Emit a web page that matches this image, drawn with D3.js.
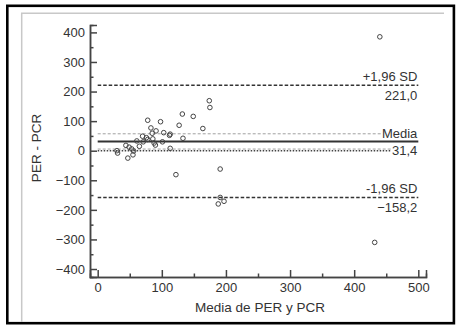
<!DOCTYPE html>
<html>
<head>
<meta charset="utf-8">
<script src="https://cdn.jsdelivr.net/npm/d3@7"></script>
<style>
  body { margin: 0; background: #fff; }
  text { font-family: "Liberation Sans", Arial, sans-serif; fill: #333; }
</style>
</head>
<body>
<svg id="chart" width="461" height="329"></svg>
<script>
// Bland-Altman data: mean of both methods vs difference
var meanVals = [30, 31, 44, 47, 49, 53, 55, 56, 61, 65, 70, 71, 76, 78, 78, 83, 85, 86, 88, 90,
  91, 98, 101, 103, 112, 113, 113, 122, 127, 132, 133, 149, 164, 174, 175, 191, 191, 188, 197, 432, 440];
var diffVals = [0, -8, 18, -25, 12, 6, -14, -1, 33, 15, 49, 30, 44, 103, 38, 77, 59, 40, 26, 19,
  67, 98, 30, 61, 52, 56, 8, -81, 86, 124, 42, 116, 75, 169, 146, -62, -158, -180, -171, -310, 385];

var meanDiff = 31.4;
var upperLoA = 221.0;
var lowerLoA = -158.2;
var ciMean = [5.6, 57.2];

var xTicks = [0, 100, 200, 300, 400, 500];
var yTicks = [-400, -300, -200, -100, 0, 100, 200, 300, 400];

var svg = d3.select("#chart");

// outer frame + light inner edges
svg.append("rect")
  .attr("x", 7.3).attr("y", 5.8).attr("width", 446.6).attr("height", 317.4)
  .attr("fill", "none").attr("stroke", "#000").attr("stroke-width", 2.6);
svg.append("path")
  .attr("d", "M21.7,322 V13.3 H444")
  .attr("fill", "none").attr("stroke", "#c8c8c8").attr("stroke-width", 1.5);

// set the ranges
var x = d3.scaleLinear().domain([-12, 512]).range([90, 426]);
var y = d3.scaleLinear().domain([-427, 425]).range([277, 25]);

var x0 = x(0), x1 = x(500);

// axes (ticks point inward)
var yAxis = svg.append("g")
  .attr("transform", "translate(" + x(-12) + ",0)")
  .call(d3.axisLeft(y).tickValues(yTicks).tickSize(-7).tickPadding(5)
    .tickFormat(d3.format("d")));
var yMinor = svg.append("g")
  .attr("transform", "translate(" + x(-12) + ",0)")
  .call(d3.axisLeft(y).tickValues(d3.range(-350, 400, 100)).tickSize(-3.5).tickFormat(""));

var xAxis = svg.append("g")
  .attr("transform", "translate(0," + y(-427) + ")")
  .call(d3.axisBottom(x).tickValues(xTicks).tickSize(-7).tickPadding(6));
var xMinor = svg.append("g")
  .attr("transform", "translate(0," + y(-427) + ")")
  .call(d3.axisBottom(x).tickValues(d3.range(50, 500, 100)).tickSize(-3.5).tickFormat(""));

[yAxis, yMinor, xAxis, xMinor].forEach(function (g) {
  g.selectAll("path, line").attr("stroke", "#444").attr("stroke-width", 1.5);
  g.selectAll("text").style("font-size", "13px").attr("fill", "#333");
});

// axis titles
svg.append("text")
  .attr("x", 260).attr("y", 311.5)
  .attr("text-anchor", "middle")
  .style("font-size", "13.5px")
  .text("Media de PER y PCR");
svg.append("text")
  .attr("transform", "translate(40.5,148) rotate(-90)")
  .attr("text-anchor", "middle")
  .style("font-size", "13.5px")
  .text("PER - PCR");

// reference lines
function hline(v, stroke, width, dash) {
  svg.append("line")
    .attr("x1", x0).attr("x2", x1)
    .attr("y1", y(v)).attr("y2", y(v))
    .attr("stroke", stroke).attr("stroke-width", width)
    .attr("stroke-dasharray", dash);
}
hline(ciMean[1], "#a0a0a0", 1, "3,2");
hline(ciMean[0], "#a0a0a0", 1, "3,2");
hline(0, "#444", 1.5, "1.5,1.5");
hline(upperLoA, "#333", 1.5, "3.5,2");
hline(lowerLoA, "#333", 1.5, "3.5,2");

var fmt = function (v) { return d3.format(".1f")(v).replace(".", ","); };

function label(txt, baseline, bg) {
  var t = svg.append("text")
    .attr("x", x1 - 1).attr("y", baseline)
    .attr("text-anchor", "end")
    .style("font-size", "13px")
    .text(txt);
  if (bg) {
    var b = t.node().getBBox();
    svg.insert("rect", function () { return t.node(); })
      .attr("x", b.x - 1).attr("y", b.y + 1.5)
      .attr("width", b.width + 3).attr("height", b.height - 3)
      .attr("fill", "#fff");
  }
  return t;
}

label("+1,96 SD", y(upperLoA) - 4.5);
label(fmt(upperLoA), y(upperLoA) + 14.5);
label("-1,96 SD", y(lowerLoA) - 4.5);
label(fmt(lowerLoA), y(lowerLoA) + 14.5);
label("Media", y(meanDiff) - 3.8, true);
label(fmt(meanDiff), y(meanDiff) + 13.5, true);

// mean line
hline(meanDiff, "#333", 2, null);

// points
svg.append("g").selectAll("circle")
  .data(meanVals)
  .enter().append("circle")
  .attr("cx", function (d) { return x(d); })
  .attr("cy", function (d, i) { return y(diffVals[i]); })
  .attr("r", 2.3)
  .attr("fill", "none")
  .attr("stroke", "#444")
  .attr("stroke-width", 1);
</script>
</body>
</html>
